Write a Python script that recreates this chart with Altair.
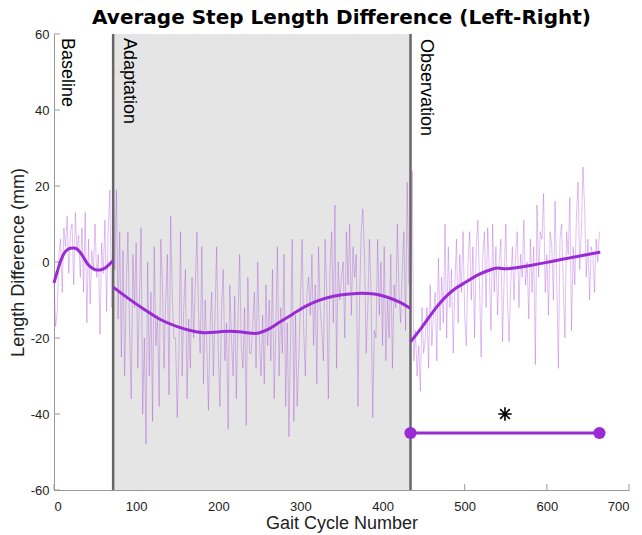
import altair as alt
import pandas as pd

TITLE = "Average Step Length Difference (Left-Right)"
X_TITLE = "Gait Cycle Number"
Y_TITLE = "Length Difference (mm)"

phase_names = ["Baseline", "Adaptation", "Observation"]
phase_starts = [0, 72, 434]
phase_lines = [72, 434]
shade_from, shade_to = 72, 434

# raw step-length differences, one value every 2 gait cycles
step = 2
base_start = 0
base_raw = [-5, -17, -13, 2, 6, -8, 9, 4, 12, -3, 8, 10, -6, 13, 3, 7, -4, 9, -8, 13,
            -16, 6, -11, 3, -2, 10, -4, 2, -19, 5, -3, 11, -13, 9, 19, -12]
adapt_start = 72
adapt_raw = (
    [29, -2, 19, -15, 8, -25, 3, -30, -6, 8, -18, -36, 2, -12, 5, -28, -10, 9, -40, -20]
    + [-48, 0, -30, -8, -42, 4, -22, -14, -38, 6, -6, -28, -10, 2, -35, 12, -9, -20, -20, -41]
    + [-25, 8, -30, -12, -2, -36, -15, -28, -4, -20, -6, 8, -14, -24, 4, -32, -10, -22, -39, -17]
    + [-8, -30, -14, 4, -24, -38, -12, -2, -26, -16, -44, -6, -20, -30, -9, -36, -15, 2, -22, -28]
    + [-12, -43, -4, -24, -24, -16, -8, -28, 0, -20, -30, -14, -32, -6, -22, -10, -26, -2, -36, -18]
    + [4, -30, -12, -24, 2, -38, -16, -46, -20, 6, -42, -14, -38, -26, -10, 6, -18, -30, -8, -4]
    + [-14, 2, -22, -6, -32, 4, -12, -18, -26, 6, -8, -36, -2, 8, -16, 15, -28, 0, -10, -4]
    + [0, -20, 8, -6, 10, -14, 4, -4, 2, -38, -10, 8, 14, 2, -24, -12, 6, -8, -41, -18]
    + [-20, 6, -14, 0, -22, 4, -26, -10, -20, 2, -28, -6, -12, 10, -8, -16, -2, 8, -18, 21, -6]
)
obs_start = 434
obs_raw = (
    [-14, 24, -26, -18, -30, -22, -34, -12, -24, -20, -12, -28, -6, -22, -14, -8, -26, 1, -18, -4]
    + [-16, 10, -20, 4, -12, -2, -24, -6, 6, -16, 2, -8, 8, -14, -22, 0, 8, -10, 4, -20]
    + [4, 11, -6, -25, 2, 8, -12, 9, -2, -18, 10, -8, 4, -14, 0, 6, -21, -4, 10, -10]
    + [-21, -6, 4, -10, 2, 8, -12, 2, -4, 11, -6, 0, -15, 6, -8, 4, -27, 15, -4, 8]
    + [6, 18, -8, 2, -14, 8, 4, -10, 16, -4, -28, 6, 10, -6, -20, 8, 2, 17, -18, 4]
    + [-6, 12, 21, -2, 8, 25, 14, -4, 6, -10, 4, 2, -8, 6, 0, 8]
)

# smooth fits per phase
base_fit_x = [0, 4, 8, 12, 16, 20, 24, 28, 32, 36, 40, 44, 48, 52, 56, 60, 64, 68, 72]
base_fit_y = [-5.5, -2.5, 0.2, 2.2, 3.2, 3.6, 3.7, 3.4, 2.5, 1.2, -0.2, -1.2, -1.8, -2.1, -2.1, -1.8, -1.3, -0.5, 0.4]
adapt_fit_x = [72, 90, 110, 130, 150, 170, 185, 200, 215, 230, 245, 260, 275, 290, 305, 320, 340, 360, 375, 390, 405, 420, 434]
adapt_fit_y = [-6.6, -9.5, -12.5, -15.2, -17.0, -18.2, -18.6, -18.4, -18.2, -18.5, -18.8, -17.8, -15.8, -13.8, -11.8, -10.3, -9.0, -8.4, -8.2, -8.4, -9.2, -10.5, -12.2]
obs_fit_x = [434, 445, 455, 466, 480, 490, 502, 515, 528, 540, 550, 560, 580, 600, 620, 640, 665]
obs_fit_y = [-21, -18, -15, -11.8, -8.5, -6.8, -5.2, -3.5, -2.3, -1.6, -1.8, -1.6, -0.9, -0.1, 0.8, 1.6, 2.6]

sig_x = [434, 664]
sig_y = [-45, -45]
star_x, star_y = 549, -40

x_ticks = [0, 100, 200, 300, 400, 500, 600, 700]
y_ticks = [-60, -40, -20, 0, 20, 40, 60]

PURPLE = "#9a2bd4"
FONT = "Liberation Sans"
W, H = 575, 456

# ---- tables
raw_rows = []
for seg, start, vals in [("b", base_start, base_raw), ("a", adapt_start, adapt_raw), ("o", obs_start, obs_raw)]:
    for i, v in enumerate(vals):
        raw_rows.append({"seg": seg, "x": start + step * i, "y": v})
raw_df = pd.DataFrame(raw_rows)

fit_rows = []
for seg, xs_, ys_ in [("b", base_fit_x, base_fit_y), ("a", adapt_fit_x, adapt_fit_y), ("o", obs_fit_x, obs_fit_y)]:
    for xv, yv in zip(xs_, ys_):
        fit_rows.append({"seg": seg, "x": xv, "y": yv})
fit_df = pd.DataFrame(fit_rows)

sig_df = pd.DataFrame({"x": sig_x, "y": sig_y})
star_df = pd.DataFrame({"x": [star_x], "y": [star_y]})
shade_df = pd.DataFrame({"x": [shade_from], "x2": [shade_to]})
vline_df = pd.DataFrame({"x": phase_lines})
phase_df = pd.DataFrame({"name": phase_names, "x": phase_starts, "y": [60, 60, 60]})
xt_df = pd.DataFrame({"x": x_ticks})
yt_df = pd.DataFrame({"y": y_ticks})

xs = alt.Scale(domain=[0, 700], nice=False, zero=False)
ys = alt.Scale(domain=[-60, 60], nice=False, zero=False)

x_axis = alt.Axis(values=x_ticks, title=X_TITLE, ticks=False, tickSize=0, grid=False,
                  labelPadding=10, titlePadding=1, labelExpr="datum.value")
y_axis = alt.Axis(values=y_ticks, title=Y_TITLE, ticks=False, tickSize=0, grid=False,
                  labelPadding=5, titlePadding=3, labelExpr="datum.value")


def X(field="x"):
    return alt.X(f"{field}:Q", scale=xs, axis=x_axis)


def Y(field="y"):
    return alt.Y(f"{field}:Q", scale=ys, axis=y_axis)


xticks_layer = alt.Chart(xt_df).mark_rule(color="#999", strokeWidth=1).encode(
    x=X(), y=alt.value(H), y2=alt.value(H - 6))
yticks_layer = alt.Chart(yt_df).mark_rule(color="#999", strokeWidth=1).encode(
    y=Y(), x=alt.value(0), x2=alt.value(6))

shade = alt.Chart(shade_df).mark_rect(color="#e5e5e5").encode(
    x=X(), x2="x2:Q", y=alt.value(0), y2=alt.value(H))

raw = alt.Chart(raw_df).mark_line(color=PURPLE, strokeWidth=1, opacity=0.3).encode(
    x=X(), y=Y(), detail="seg:N", order="x:Q")

vlines = alt.Chart(vline_df).mark_rule(color="#666", strokeWidth=2.5).encode(
    x=X(), y=alt.value(0), y2=alt.value(H))

fit = alt.Chart(fit_df).mark_line(color=PURPLE, strokeWidth=3, interpolate="monotone").encode(
    x=X(), y=Y(), detail="seg:N", order="x:Q")

sig_line = alt.Chart(sig_df).mark_line(color=PURPLE, strokeWidth=3).encode(x=X(), y=Y())
sig_pts = alt.Chart(sig_df).mark_circle(color=PURPLE, size=150, opacity=1).encode(x=X(), y=Y())

star = alt.Chart(star_df).mark_point(
    shape="M-1,0L1,0M0,-1L0,1M-0.72,-0.72L0.72,0.72M-0.72,0.72L0.72,-0.72",
    size=180, stroke="black", strokeWidth=1.6, filled=False, opacity=1
).encode(x=X(), y=Y())


def phase_label(name, dx, dy):
    return alt.Chart(phase_df[phase_df.name == name]).mark_text(
        angle=90, align="left", baseline="alphabetic", font=FONT, fontSize=18,
        color="black", dx=dx, dy=dy
    ).encode(x=X(), y=Y(), text="name:N")


lab_b = phase_label("Baseline", 4, -8)
lab_a = phase_label("Adaptation", 4, -11)
lab_o = phase_label("Observation", 5, -10)

chart = alt.layer(
    xticks_layer, yticks_layer, shade, raw, vlines, fit, sig_line, sig_pts, star, lab_b, lab_a, lab_o
).properties(
    width=W, height=H,
    title=alt.TitleParams(TITLE, fontSize=20, fontWeight="bold", font="DejaVu Sans", anchor="middle",
                          offset=0, color="black"),
    autosize=alt.AutoSizeParams(type="none"),
    padding={"left": 46, "top": 26, "right": 5, "bottom": 46},
).configure_view(stroke=None).configure_axis(
    domainColor="#999", domainWidth=1, labelColor="#222", titleColor="#222",
    labelFont=FONT, titleFont=FONT, labelFontSize=13, titleFontSize=18, titleFontWeight="normal",
)

chart.save("out.html", embed_options={"renderer": "svg", "actions": False})
